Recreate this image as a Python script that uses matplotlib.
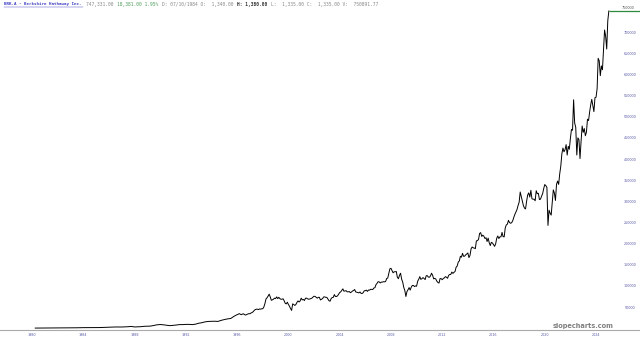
#!/usr/bin/env python3
# -*- coding: utf-8 -*-
"""
BRK.A long-term price chart, slopecharts style.
"""

import numpy as np
import matplotlib.pyplot as plt
from matplotlib.lines import Line2D

# --- data ---
# quarterly closes 1980-1995
quarterly_1980_1995 = [
    290, 330, 375, 425,
    470, 490, 520, 560,
    490, 520, 600, 775,
    900, 1000, 1200, 1310,
    1300, 1250, 1230, 1275,
    1500, 1800, 2100, 2470,
    2800, 2900, 2800, 2820,
    3100, 3500, 4200, 2950,
    3300, 3600, 4500, 4700,
    5000, 6500, 8000, 8675,
    8000, 7000, 6000, 6675,
    7500, 8500, 8500, 9050,
    9000, 8500, 9500, 11750,
    13000, 15000, 16000, 16325,
    16500, 16000, 18500, 20400,
    22000, 23000, 28000, 32100,
]

# monthly closes 1996-2024
monthly_1996_2024 = [
    33000, 34500, 33000, 32000, 33500, 34000, 32000, 31000, 32500, 33500, 34500, 34100,
    36000, 37000, 39000, 42000, 44000, 45000, 45000, 44000, 45500, 45000, 46000, 46000,
    50000, 58000, 69000, 72000, 76000, 80500, 74000, 66000, 67000, 68500, 71000, 70000,
    74000, 70000, 73000, 70000, 68500, 68500, 69500, 65000, 59000, 57500, 61500, 56100,
    52000, 46500, 42000, 57500, 56000, 53800, 56000, 61000, 64500, 62000, 64500, 71000,
    67000, 68000, 65400, 71000, 71000, 69400, 68500, 69000, 70000, 71000, 73500, 75600,
    75000, 73000, 71100, 73000, 73000, 66800, 68500, 70000, 73900, 74000, 73000, 72750,
    69000, 65000, 63800, 70000, 72500, 72900, 79500, 75000, 75000, 76500, 80500, 84250,
    86000, 89500, 93000, 87500, 88000, 88700, 86000, 86000, 86600, 84000, 85500, 87900,
    89000, 91500, 85800, 85000, 84000, 83500, 85500, 82500, 82000, 84000, 88500, 88620,
    90000, 87000, 90300, 90000, 92000, 91700, 91500, 95000, 95800, 103000, 106000, 110000,
    109500, 107000, 109000, 108900, 110000, 109500, 110500, 117500, 118500, 130000, 140500, 141600,
    136000, 131000, 133400, 133400, 134000, 120500, 117000, 125000, 130000, 116000, 109000, 96600,
    89000, 75000, 86800, 91000, 96000, 90000, 97000, 101000, 101000, 98500, 100000, 99200,
    111000, 115500, 121900, 115500, 117000, 119600, 117500, 115000, 124000, 124300, 120800, 120450,
    123500, 130000, 125300, 116600, 118000, 116100, 111000, 108000, 106800, 117500, 117000, 114750,
    117500, 119000, 121900, 120500, 118000, 124900, 127000, 127000, 132700, 129500, 132000, 134060,
    144000, 147000, 156200, 159000, 170000, 167900, 177000, 170000, 170300, 173500, 175500, 177900,
    167000, 172000, 187500, 192000, 190000, 189500, 188000, 206500, 207000, 210000, 224000, 226000,
    217000, 220000, 217500, 212000, 214000, 204900, 213000, 202000, 195400, 203000, 201500, 197800,
    193500, 199000, 212500, 218000, 212000, 216000, 216000, 226500, 216300, 216000, 237000, 244100,
    246000, 255000, 249800, 248000, 249500, 254000, 262000, 269000, 274700, 280500, 290000, 297600,
    322000, 311000, 299000, 290000, 284000, 282000, 300000, 315000, 320000, 310000, 326000, 306000,
    305000, 305000, 301200, 325000, 318000, 318900, 304000, 305000, 312000, 318000, 330000, 339600,
    337000, 333000, 243000, 279000, 272000, 267300, 296000, 327000, 319500, 302000, 340000, 347800,
    340000, 365000, 383000, 412000, 426000, 417000, 422000, 434000, 409300, 430000, 423000, 449000,
    470000, 468000, 540000, 485000, 475000, 409500, 450000, 446000, 401000, 442000, 478000, 463000,
    472000, 455000, 463200, 494000, 491000, 511000, 528000, 541000, 525800, 512000, 545000, 546000,
    566000, 638000, 632000, 597000, 620000, 611000, 657000, 705000, 690000, 660000, 727000, 750000,
]

year_ticks = [1980, 1984, 1988, 1992, 1996, 2000, 2004, 2008, 2012, 2016, 2020, 2024]
price_ticks = [50000, 100000, 150000, 200000, 250000, 300000, 350000,
               400000, 450000, 500000, 550000, 600000, 650000, 700000]

title_text = "BRK.A - Berkshire Hathaway Inc."
header_parts = [
    ("747,331.00 ", "#888888", "normal"),
    ("18,381.00 1.95% ", "#4f9f5c", "normal"),
    ("D: 07/10/1984 O:  1,340.00 ", "#888888", "normal"),
    ("H: 1,380.00 ", "#333333", "bold"),
    ("L:  1,335.00 C:  1,335.00 V:  750891.77", "#888888", "normal"),
]

# positions in decimal years
x_early = 1980 + np.arange(len(quarterly_1980_1995)) * 0.25 + 0.25
x_late = 1996 + np.arange(len(monthly_1996_2024)) / 12.0 + 1 / 12.0
x = np.concatenate([x_early, x_late])
y = np.concatenate([quarterly_1980_1995, monthly_1996_2024]).astype(float)

W, H = 640, 341
fig = plt.figure(figsize=(W / 100, H / 100), dpi=100)
fig.patch.set_facecolor("white")

# axes spans full width; bottom line at y=330px
ax = fig.add_axes([0, (H - 330) / H, 1, 330 / H])
ax.plot(x, y, color="black", linewidth=0.7)

# last price line
last = y[-1]
ax.hlines(last, x[-1], 2027.43, color="#2e8b3e", linewidth=0.9)

ax.set_xlim(1977.50, 2027.43)
ax.set_ylim(-4255, 775900)

for side in ["top", "left", "right"]:
    ax.spines[side].set_visible(False)
ax.spines["bottom"].set_color("#aaaaaa")
ax.spines["bottom"].set_linewidth(0.8)

ax.set_xticks(year_ticks)
ax.set_xticklabels([str(t) for t in year_ticks])
ax.tick_params(axis="x", length=0, pad=2.0, labelsize=2.4, labelcolor="#5a5aa8")

ax.yaxis.tick_right()
ax.set_yticks(price_ticks)
ax.set_yticklabels([str(t) for t in price_ticks])
ax.tick_params(axis="y", length=0, pad=-7.0, labelsize=2.4, labelcolor="#5a5aa8")
for lbl in ax.get_yticklabels():
    lbl.set_horizontalalignment("center")

ax.text(2026.5, last + 2500, f"{int(last)}", fontsize=2.4,
        color="#555555", ha="center", va="bottom")

# header, monospace so segments can be placed by character count
hy = 1 - 4.5 / H
mono = "DejaVu Sans Mono"
fig.text(4 / W, hy, title_text, fontsize=3.0, family=mono, color="#3b3bc4",
         fontweight="bold", va="center", ha="left")
fig.add_artist(Line2D([4 / W, 83 / W], [1 - 7.3 / H] * 2, color="#3b3bc4", linewidth=0.3))

char_w = 2.8  # px per character at the font size below
px = 86
for txt, col, wt in header_parts:
    fig.text(px / W, hy, txt, fontsize=2.8 * 72 / 100 / 0.6, family=mono, color=col,
             fontweight=wt, va="center", ha="left")
    px += len(txt) * char_w

# watermark
fig.text(583 / W, 1 - 326 / H, "slopecharts.com", fontsize=4.8, color="#808080",
         fontweight="bold", ha="center", va="center")

fig.savefig("out.png", dpi=100, facecolor="white")
